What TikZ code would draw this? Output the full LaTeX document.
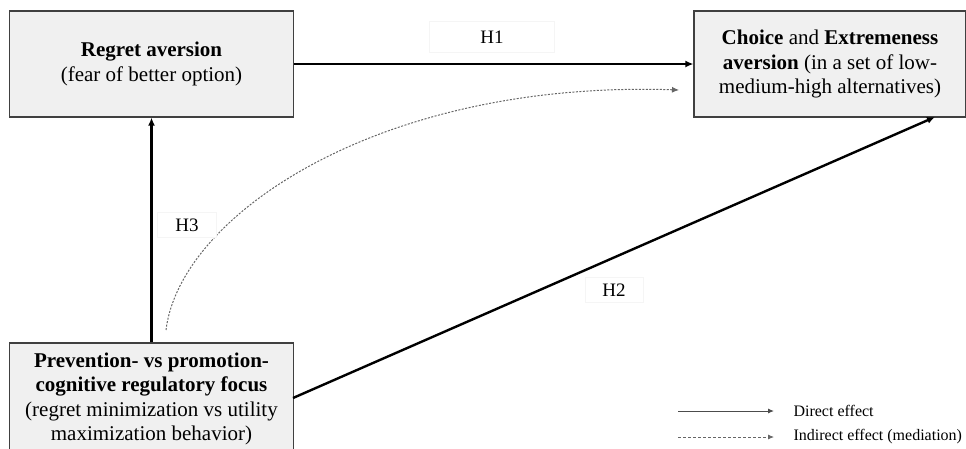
\documentclass[tikz,border=0pt]{standalone}
\usepackage{fontspec}
\setmainfont{Liberation Serif}
\usetikzlibrary{arrows.meta}
\begin{document}
\begin{tikzpicture}[x=1pt,y=-1pt,
  box/.style={draw=black!75, line width=1.2pt, fill=black!6, inner sep=0pt, align=center, font=\fontsize{21}{24.5}\selectfont},
  hlabel/.style={draw=black!4, fill=white, font=\fontsize{19}{20}\selectfont, inner sep=0pt},
  direct/.style={line width=2.4pt, -{Latex[length=8pt,width=7pt]}},
  indirect/.style={line width=1pt, black!60, dash pattern=on 2pt off 1.5pt, -{Latex[length=7pt,width=6pt]}},
  legsolid/.style={line width=1pt, black!70, -{Latex[length=6pt,width=5pt]}},
  legdash/.style={line width=0.8pt, black!60, dash pattern=on 3pt off 2pt, -{Latex[length=6pt,width=5pt]}},
  legtext/.style={anchor=west, font=\fontsize{16}{18}\selectfont}]
\useasboundingbox (0,0) rectangle (966,448);
\node[box, minimum width=284pt, minimum height=106pt] (regret) at (151.5,64) {\textbf{Regret aversion}\\(fear of better option)};
\node[box, minimum width=272pt, minimum height=106pt] (choice) at (830,64) {\textbf{Choice} and \textbf{Extremeness}\\\textbf{aversion} (in a set of low-\\medium-high alternatives)};
\node[box, minimum width=284pt, minimum height=112pt] (prev) at (151.5,399) {\textbf{Prevention- vs promotion-}\\\textbf{cognitive regulatory focus}\\(regret minimization vs utility\\maximization behavior)};
\coordinate (h2end) at (935,117);
\coordinate (h2start) at (293,398);
\coordinate (dstart) at (166,330);
\coordinate (dend) at (679,90);
\draw[direct] (regret.east) -- (choice.west);
\draw[direct] (prev.north) -- (regret.south);
\draw[direct] (h2start) -- (h2end);
\draw[indirect] (dstart) .. controls (180,215) and (380,80) .. (dend);
\node[hlabel, minimum width=125pt, minimum height=31pt] (h1) at (492,37) {H1};
\node[hlabel, minimum width=59pt, minimum height=25pt] (h3) at (187,225) {H3};
\node[hlabel, minimum width=58pt, minimum height=25pt] (h2) at (614,290) {H2};
\coordinate (l1a) at (678,411);
\coordinate (l1b) at (774,411);
\coordinate (l2a) at (678,437);
\coordinate (l2b) at (774,437);
\draw[legsolid] (l1a) -- (l1b);
\draw[legdash] (l2a) -- (l2b);
\node[legtext] (t1) at (790,411) {Direct effect};
\node[legtext] (t2) at (790,437) {Indirect effect (mediation)};
\end{tikzpicture}
\end{document}
